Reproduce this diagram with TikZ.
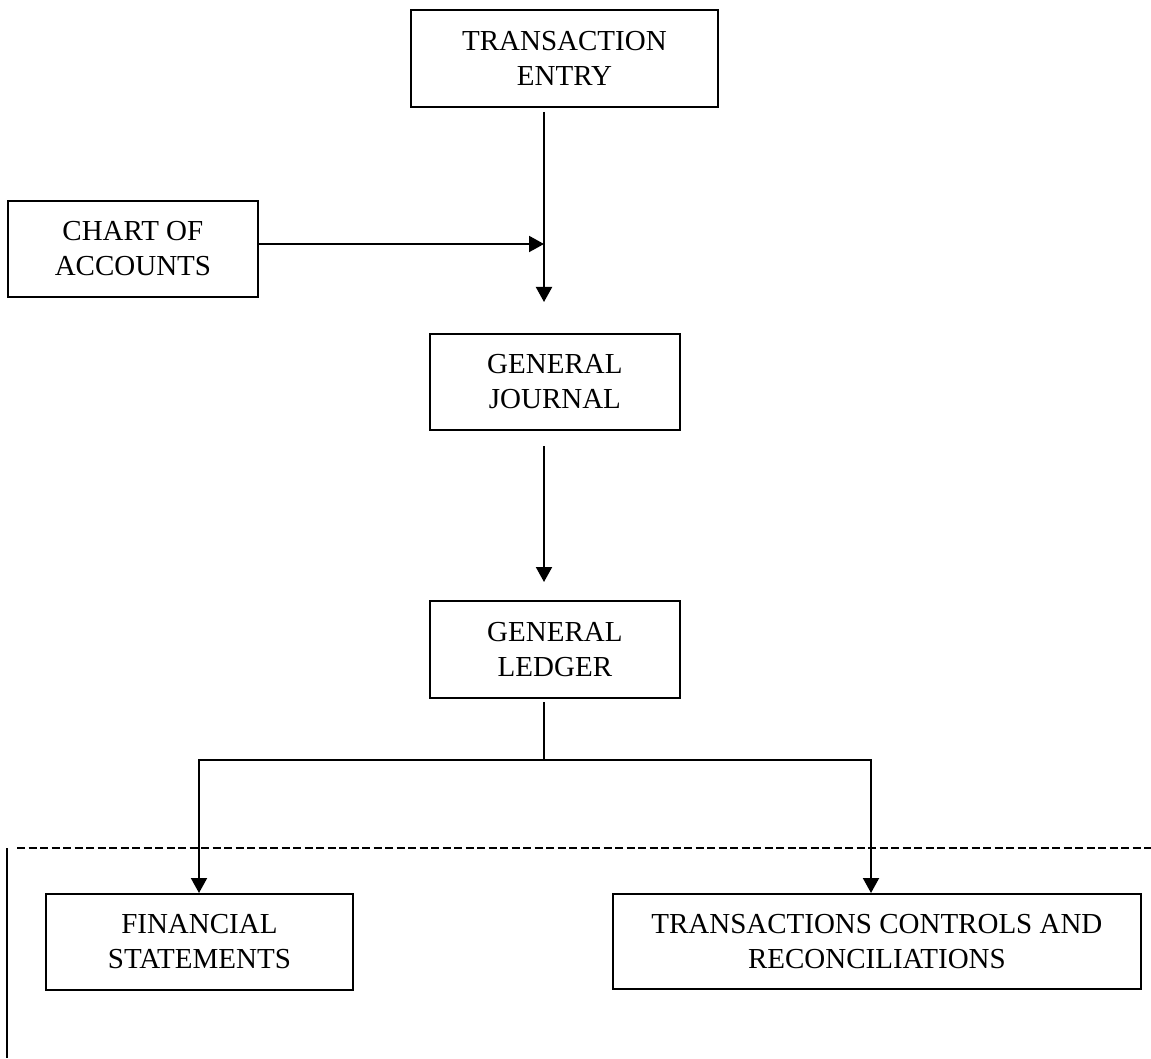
\documentclass[tikz,border=0pt]{standalone}
\usepackage{fontspec}
\setmainfont{Liberation Serif}
\usetikzlibrary{arrows.meta}
\begin{document}
\begin{tikzpicture}[x=1pt,y=-1pt,
  box/.style={draw,line width=1.8pt,inner sep=0pt,align=center,font=\fontsize{29}{35}\selectfont,anchor=north west},
  arr/.style={line width=2pt,-{Triangle[length=15pt,width=16pt]}},
  ln/.style={line width=2pt},
  sep/.style={line width=2.5pt,dash pattern=on 8pt off 3.5pt}]
\useasboundingbox (0,0) rectangle (1151,1059);
\node[box,minimum width=307pt,minimum height=97pt] (te) at (410,9) {TRANSACTION\\ENTRY};
\node[box,minimum width=250pt,minimum height=96pt] (ca) at (7,200) {CHART OF\\ACCOUNTS};
\node[box,minimum width=250pt,minimum height=96pt] (gj) at (429,333) {GENERAL\\JOURNAL};
\node[box,minimum width=250pt,minimum height=97pt] (gl) at (429,600) {GENERAL\\LEDGER};
\node[box,minimum width=307pt,minimum height=96pt] (fs) at (45,893) {FINANCIAL\\STATEMENTS};
\node[box,minimum width=528pt,minimum height=95pt] (tc) at (612,893) {TRANSACTIONS CONTROLS AND\\RECONCILIATIONS};
\coordinate (a1) at (544,112);
\coordinate (a2) at (544,302);
\coordinate (j) at (544,244);
\coordinate (b1) at (544,446);
\coordinate (b2) at (544,582);
\coordinate (c1) at (544,702);
\coordinate (c2) at (544,760);
\coordinate (l) at (199,760);
\coordinate (r) at (871,760);
\coordinate (d1) at (17,848);
\coordinate (d2) at (1151,848);
\coordinate (v1) at (7,848);
\coordinate (v2) at (7,1058);
\draw[arr] (a1) -- (a2);
\draw[arr] (ca.east |- j) -- (j);
\draw[arr] (b1) -- (b2);
\draw[ln] (c1) -- (c2);
\draw[sep] (d1) -- (d2);
\draw[arr] (c2) -- (l) -- (l |- fs.north);
\draw[arr] (c2) -- (r) -- (r |- tc.north);
\draw[line width=1.8pt] (v1) -- (v2);
\end{tikzpicture}
\end{document}
